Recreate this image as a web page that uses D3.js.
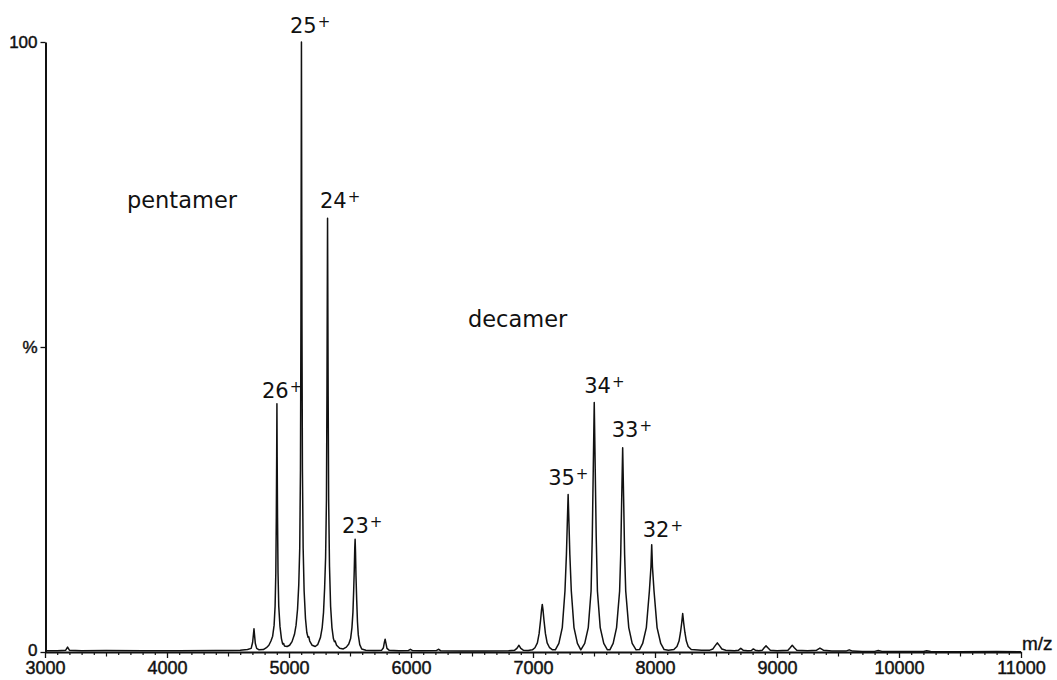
<!DOCTYPE html>
<html><head><meta charset="utf-8">
<script src="https://cdn.jsdelivr.net/npm/d3@7"></script>
<style>body{margin:0;background:#fff}svg{display:block}</style>
</head><body><svg id="c" width="1057" height="680"></svg>
<script>
// ---- data ----
const spectrum = [
 [3000,0.2],[3100,0.2],[3170,0.3],[3185,0.8],[3200,0.3],[3300,0.2],[3500,0.25],[3800,0.2],[4100,0.2],[4400,0.25],[4600,0.3],[4660,0.4],
 [4690,0.6],[4702,1.6],[4709,3.0],[4713,3.8],[4717,2.9],[4724,1.4],[4735,0.6],[4755,0.35],[4790,0.4],[4815,0.7],[4835,1.1],
 [4852,1.8],[4866,2.6],[4878,4.4],[4886,7.5],[4892,13],[4896,22],[4899,32],[4901,40.7],[4903,32],[4906,22],[4910,13],[4916,7.5],[4926,4.2],[4938,2.2],[4948,1.3],[4956,1.4],[4962,1.0],[4985,0.9],[5005,1.1],[5025,1.7],
 [5045,2.9],[5058,4.4],[5070,7.0],[5080,11],[5088,17],[5094,30],[5098,55],[5102,100],[5106,55],[5110,30],[5116,17],[5124,10],[5135,5.5],[5146,3.2],[5156,2.4],[5162,2.5],[5170,1.8],[5190,1.1],[5215,0.9],[5235,1.2],
 [5258,2.4],[5272,4.0],[5283,6.5],[5292,10.5],[5300,15.5],[5307,25],[5311,42],[5316,71.1],[5321,42],[5325,25],[5332,14],[5341,7.5],[5352,4.0],[5364,2.2],[5372,1.7],[5378,1.8],[5390,1.1],[5415,0.6],[5445,0.5],[5470,0.8],
 [5490,1.3],[5505,2.2],[5516,4.0],[5524,6.5],[5530,10],[5535,13.5],[5539,17],[5542,18.5],[5545,16.5],[5549,12.5],[5555,8.5],[5561,5.0],[5568,2.8],[5580,1.2],[5596,0.5],[5630,0.3],[5700,0.25],[5760,0.3],
 [5774,0.7],[5782,1.6],[5788,2.1],[5794,1.5],[5803,0.6],[5820,0.3],[5900,0.2],[5980,0.25],[5995,0.45],[6010,0.25],[6080,0.2],[6210,0.25],[6225,0.45],[6245,0.2],[6400,0.15],[6600,0.15],[6800,0.2],[6850,0.3],
 [6868,0.6],[6885,1.1],[6900,0.6],[6920,0.3],[6960,0.25],[6995,0.35],
 [7016,0.7],[7036,1.5],[7050,3.0],[7062,5.2],[7070,6.9],[7076,7.8],[7082,6.9],[7090,5.2],[7102,3.0],[7116,1.5],[7136,0.7],[7160,0.35],[7183,0.35],
 [7212,1.4],[7240,4.0],[7262,10],[7274,16],[7281,21],[7288,25.8],[7295,21],[7302,16],[7314,10],[7336,4.0],[7364,1.4],[7392,0.35],
 [7424,1.4],[7453,4.0],[7476,10],[7486,19],[7494,30],[7502,40.9],[7510,30],[7518,19],[7528,10],[7551,4.0],[7580,1.4],[7610,0.35],
 [7630,0.35],[7657,1.4],[7685,4.0],[7710,10],[7719,16],[7727,25],[7735,33.5],[7743,25],[7751,16],[7760,10],[7785,4.0],[7813,1.4],[7845,0.35],
 [7873,0.4],[7899,1.4],[7929,4.0],[7954,10],[7967,14],[7973,17.6],[7979,14],[7992,10],[8017,4.0],[8047,1.4],[8075,0.4],[8110,0.3],
 [8155,0.4],[8180,0.9],[8197,1.8],[8209,3.2],[8219,4.8],[8227,6.3],[8235,4.8],[8245,3.2],[8257,1.8],[8272,0.9],[8297,0.4],[8380,0.3],[8450,0.3],
 [8475,0.5],[8492,1.0],[8511,1.5],[8530,1.0],[8548,0.5],[8580,0.3],[8650,0.2],[8685,0.3],[8703,0.6],[8722,0.3],[8760,0.2],[8790,0.25],[8806,0.5],[8822,0.3],[8850,0.2],
 [8880,0.3],[8895,0.7],[8910,1.0],[8925,0.7],[8945,0.3],[9000,0.2],[9090,0.3],[9108,0.7],[9125,1.1],[9142,0.7],[9162,0.3],[9250,0.2],[9325,0.3],[9352,0.65],[9380,0.3],
 [9450,0.15],[9565,0.15],[9592,0.35],[9620,0.15],[9700,0.1],[9800,0.1],[9830,0.25],[9860,0.1],[10000,0.1],[10200,0.1],[10227,0.2],[10260,0.08],[10500,0.05],[10800,0.08],[11000,0.05]
];
const xTickValues = [3000,4000,5000,6000,7000,8000,9000,10000,11000];
const xTickLabels = ["3000","4000","5000","6000","7000","8000","9000","10000","11000"];
const yTickValues = [0,50,100];
const yTickLabels = ["0","%","100"];
const xTitle = "m/z";
const peakCharges = ["25","24","26","23","35","34","33","32"];
const peakMz = [5102,5316,4901,5542,7288,7502,7735,7973];
const peakIntensity = [100,71.1,40.7,18.5,25.8,40.9,33.5,17.6];
const annotationText = ["pentamer","decamer"];
const annotationMz = [3672,6467];
const annotationIntensity = [72.8,53.3];

// ---- layout ----
const svg = d3.select("#c");
const x = d3.scaleLinear().domain([3000,11000]).range([45,1021]);
const y = d3.scaleLinear().domain([0,100]).range([652,42]);
const labelOffsets = [[-11.5,-9],[-7.6,-10],[-15,-5.5],[-13,-6],[-20,-9.5],[-10,-9.5],[-11,-10.5],[-9,-8]];
const tickFont = "'Liberation Sans', Arial, sans-serif";
const labelFont = "'DejaVu Sans', Verdana, sans-serif";
const ink = "#111";

// minor ticks
const minor = d3.range(3000,11001,100).filter(v => v % 1000 !== 0);
const gMinor = svg.append("g").attr("transform","translate(0,652)")
  .call(d3.axisBottom(x).tickValues(minor).tickSize(3).tickSizeOuter(0).tickFormat(""));
gMinor.select(".domain").remove();
gMinor.selectAll("line").attr("stroke",ink).attr("stroke-width",1.2)
  .attr("y2", d => d % 500 === 0 ? 4.5 : 3);

// x axis
const gx = svg.append("g").attr("transform","translate(0,652)")
  .call(d3.axisBottom(x).tickValues(xTickValues).tickSize(6).tickSizeOuter(0).tickPadding(3)
    .tickFormat((d,i) => xTickLabels[i]));
gx.select(".domain").attr("stroke",ink).attr("stroke-width",2);
gx.selectAll("line").attr("stroke",ink).attr("stroke-width",1.3);
gx.selectAll("text").attr("font-family",tickFont).attr("font-size",18).attr("fill",ink)
  .attr("stroke",ink).attr("stroke-width",0.45);

// y axis
const gy = svg.append("g").attr("transform","translate(45.5,0)")
  .call(d3.axisLeft(y).tickValues(yTickValues).tickSize(5).tickSizeOuter(0).tickPadding(3)
    .tickFormat((d,i) => yTickLabels[i]));
gy.select(".domain").attr("stroke",ink).attr("stroke-width",2);
gy.selectAll("line").attr("stroke",ink).attr("stroke-width",1.3);
gy.selectAll("text").attr("font-family",tickFont).attr("font-size",17).attr("fill",ink)
  .attr("stroke",ink).attr("stroke-width",0.45)
  .attr("dy", d => d === 0 ? "0.2em" : "0.32em");

svg.append("text").attr("x",1022).attr("y",650).attr("font-family",tickFont).attr("font-size",19)
  .attr("fill",ink).attr("stroke",ink).attr("stroke-width",0.35).text(xTitle);

// spectrum trace
svg.append("path").datum(spectrum)
  .attr("fill","none").attr("stroke",ink).attr("stroke-width",1.5).attr("stroke-linejoin","round")
  .attr("d", d3.line().x(d => x(d[0])).y(d => y(d[1])));

// charge-state labels
peakCharges.forEach((c,i) => {
  const t = svg.append("text")
    .attr("x", x(peakMz[i]) + labelOffsets[i][0])
    .attr("y", y(peakIntensity[i]) + labelOffsets[i][1])
    .attr("font-family",labelFont).attr("font-size",21).attr("fill",ink);
  t.append("tspan").text(c);
  t.append("tspan").attr("font-size",15).attr("dy",-6).attr("dx",1).text("+");
});

// annotations
annotationText.forEach((s,i) => {
  svg.append("text").attr("x",x(annotationMz[i])).attr("y",y(annotationIntensity[i]))
    .attr("font-family",labelFont).attr("font-size",22.5).attr("fill",ink).text(s);
});
</script>
</body></html>
